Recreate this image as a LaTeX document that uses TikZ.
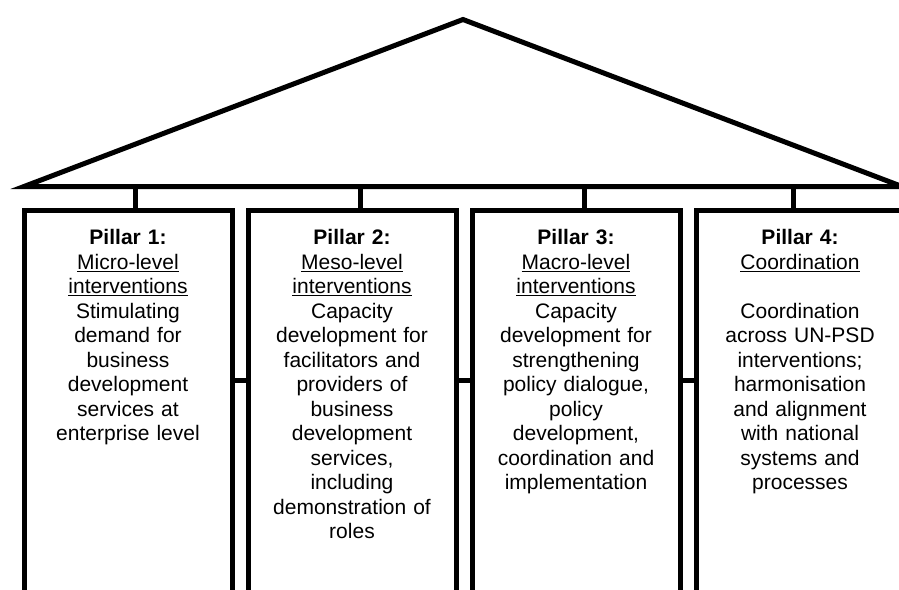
\documentclass[tikz,border=0pt]{standalone}
\usepackage{fontspec}
\setmainfont{Liberation Sans}
\usetikzlibrary{positioning}

\begin{document}
\begin{tikzpicture}[x=1pt,y=-1pt,node distance=16pt,
    frame/.style={minimum width=208pt,minimum height=420pt,inner sep=0pt,outer sep=0pt,anchor=north},
    pillartext/.style={text width=200pt,align=center,inner sep=0pt,outer sep=0pt,font=\fontsize{21}{24.5}\selectfont},
    wall/.style={line width=5pt},
    link/.style={line width=5pt}]
  \useasboundingbox (0,0) rectangle (899,589);
  \clip (0,0) rectangle (899,589);
  % roof
  \coordinate (eaveL) at (24,186.5);
  \coordinate (ridge) at (463,19.5);
  \coordinate (eaveR) at (902,186.5);
  \draw[wall] (eaveL) -- (ridge) -- (eaveR) -- cycle;
  % pillar frames, open at the bottom
  \node[frame] (f1) at (128,210.5) {};
  \node[frame,right=of f1] (f2) {};
  \node[frame,right=of f2] (f3) {};
  \node[frame,right=of f3] (f4) {};
  \draw[wall] (f1.south west) -- (f1.north west) -- (f1.north east) -- (f1.south east);
  \draw[wall] (f2.south west) -- (f2.north west) -- (f2.north east) -- (f2.south east);
  \draw[wall] (f3.south west) -- (f3.north west) -- (f3.north east) -- (f3.south east);
  \draw[wall] (f4.south west) -- (f4.north west) -- (f4.north east) -- (f4.south east);
  % stems up to the roof
  \draw[link] ([xshift=7.5pt]f1.north) -- ([xshift=7.5pt]f1.north |- eaveL);
  \draw[link] ([xshift=8pt]f2.north) -- ([xshift=8pt]f2.north |- eaveL);
  \draw[link] ([xshift=8pt]f3.north) -- ([xshift=8pt]f3.north |- eaveL);
  \draw[link] ([xshift=-7pt]f4.north) -- ([xshift=-7pt]f4.north |- eaveL);
  % ties between pillars
  \draw[link] ([yshift=40.5pt]f1.east) -- ([yshift=40.5pt]f2.west);
  \draw[link] ([yshift=40.5pt]f2.east) -- ([yshift=40.5pt]f3.west);
  \draw[link] ([yshift=40.5pt]f3.east) -- ([yshift=40.5pt]f4.west);
  % pillar texts
  \node[pillartext,below=19pt of f1.north] (t1) {\textbf{Pillar 1:}\\\underline{Micro-level}\\\underline{interventions}\\Stimulating\\demand for\\business\\development\\services at\\enterprise level};
  \node[pillartext,below=19pt of f2.north] (t2) {\textbf{Pillar 2:}\\\underline{Meso-level}\\\underline{interventions}\\Capacity\\development for\\facilitators and\\providers of\\business\\development\\services,\\including\\demonstration of\\roles};
  \node[pillartext,below=19pt of f3.north] (t3) {\textbf{Pillar 3:}\\\underline{Macro-level}\\\underline{interventions}\\Capacity\\development for\\strengthening\\policy dialogue,\\policy\\development,\\coordination and\\implementation};
  \node[pillartext,below=19pt of f4.north] (t4) {\textbf{Pillar 4:}\\\underline{Coordination}\\[24.5pt]Coordination\\across UN-PSD\\interventions;\\harmonisation\\and alignment\\with national\\systems and\\processes};
\end{tikzpicture}
\end{document}
